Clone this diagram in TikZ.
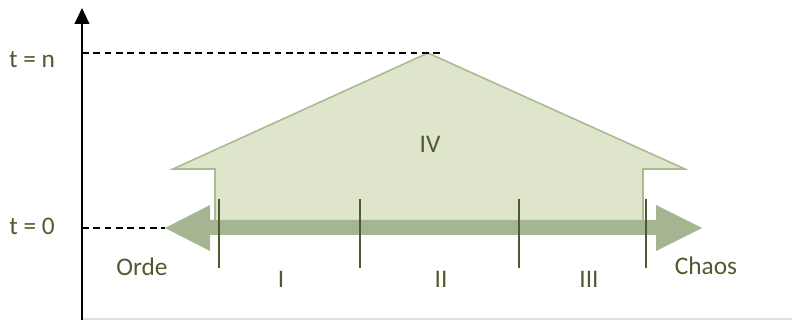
\documentclass[tikz,border=0pt]{standalone}
\usepackage{fontspec}
\setmainfont{Carlito}
\usetikzlibrary{arrows.meta}
\definecolor{txt}{RGB}{79,90,46}
\definecolor{arrowfill}{RGB}{165,181,146}
\definecolor{housefill}{RGB}{222,229,203}
\definecolor{houseline}{RGB}{169,186,148}
\definecolor{tickc}{RGB}{79,90,46}
\tikzset{
  lbl/.style={text=txt, font=\fontsize{19}{22}\selectfont, anchor=base, inner sep=0pt},
  guide/.style={black, line width=1.1pt, dash pattern=on 5pt off 3.5pt},
  tickline/.style={tickc, line width=1.5pt},
}
\begin{document}
\begin{tikzpicture}[x=0.75pt,y=-0.75pt]
\useasboundingbox (0,0) rectangle (792,320);
% faint bottom axis
\draw[black!12, line width=1pt] (82,319) -- (792,319);
% house (up arrow)
\draw[fill=housefill, draw=houseline, line width=1.2pt]
  (215,224) -- (215,169) -- (173,169) -- (428,53) -- (685,169) -- (643,169) -- (643,224);
% double arrow
\fill[arrowfill] (165,228) -- (210,205) -- (210,220) -- (656,220) -- (656,205) -- (702,228)
  -- (656,251) -- (656,235) -- (210,235) -- (210,251) -- cycle;
% ticks
\foreach \x in {219,360,519,646} \draw[tickline] (\x,199) -- (\x,268);
% y axis
\coordinate (ybot) at (82,320);
\coordinate (ytop) at (82,8);
\draw[black, line width=1.5pt, -{Triangle[length=12pt,width=11pt]}] (ybot) -- (ytop);
% guides
\coordinate (n0) at (82,53); \coordinate (n1) at (443,53);
\coordinate (z0) at (82,228); \coordinate (z1) at (165,228);
\draw[guide] (n0) -- (n1);
\draw[guide] (z0) -- (z1);
% labels
\node[lbl] (tn) at (32,68) {t = n};
\node[lbl] (t0) at (32,235) {t = 0};
\node[lbl] (orde) at (142,276) {Orde};
\node[lbl] (chaos) at (706,275) {Chaos};
\node[lbl] (i) at (281,287) {I};
\node[lbl] (ii) at (441,287) {II};
\node[lbl] (iii) at (589,287) {III};
\node[lbl] (iv) at (430,153) {IV};
\end{tikzpicture}
\end{document}
